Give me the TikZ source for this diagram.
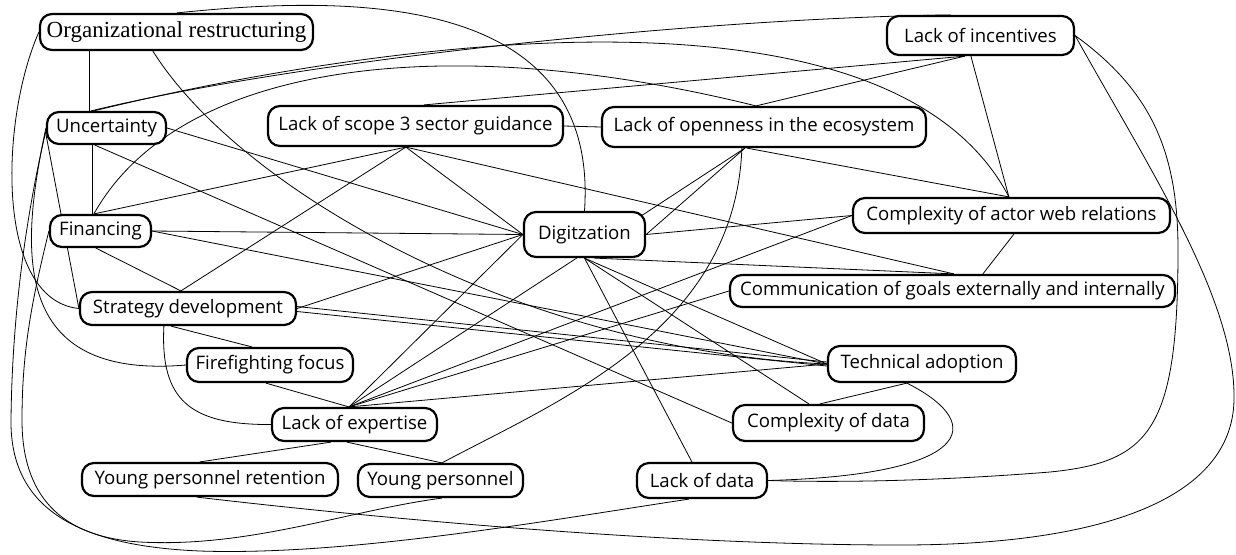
\documentclass[tikz,border=0pt]{standalone}
\usepackage{fontspec}
\setmainfont{Open Sans}
\newfontfamily\serifface{Liberation Serif}
\usetikzlibrary{calc,backgrounds}
\begin{document}
\begin{tikzpicture}[x=0.5pt,y=-0.5pt,
  box/.style={draw=black, line width=1.1pt, rounded corners=6pt, fill=white,
    inner sep=0pt, align=center, font=\fontsize{9.3}{11}\selectfont},
  link/.style={draw=black, line width=0.5pt}]
\useasboundingbox (0,0) rectangle (1236,554);

% factors
\node[box, minimum width=136.5pt, minimum height=18pt, font=\serifface\fontsize{11.5}{13}\selectfont] (OR) at (176.5,32) {Organizational restructuring};
\node[box, minimum width=93.5pt, minimum height=19.5pt] (LI) at (980.5,35.5) {Lack of incentives};
\node[box, minimum width=59.5pt, minimum height=16pt] (UN) at (106.5,128) {Uncertainty};
\node[box, minimum width=147.5pt, minimum height=20pt] (LS3) at (415.5,126) {Lack of scope 3 sector guidance};
\node[box, minimum width=162pt, minimum height=20pt] (LO) at (764,127) {Lack of openness in the ecosystem};
\node[box, minimum width=50.5pt, minimum height=16pt] (FI) at (100.5,231) {Financing};
\node[box, minimum width=60.5pt, minimum height=22.5pt] (DG) at (584.5,234.5) {Digitzation};
\node[box, minimum width=158.5pt, minimum height=17.5pt] (CA) at (1011.5,215.5) {Complexity of actor web relations};
\node[box, minimum width=222.5pt, minimum height=16pt] (CG) at (952.5,291) {Communication of goals externally and internally};
\node[box, minimum width=108pt, minimum height=16.5pt] (SD) at (188,308.5) {Strategy development};
\node[box, minimum width=83pt, minimum height=17pt] (FF) at (270,365) {Firefighting focus};
\node[box, minimum width=94pt, minimum height=18pt] (TA) at (922,364) {Technical adoption};
\node[box, minimum width=82.5pt, minimum height=16.5pt] (LE) at (354.5,424.5) {Lack of expertise};
\node[box, minimum width=95.5pt, minimum height=18pt] (CD) at (828.5,423) {Complexity of data};
\node[box, minimum width=128pt, minimum height=16.5pt] (YPR) at (210,479.5) {Young personnel retention};
\node[box, minimum width=82.5pt, minimum height=16.5pt] (YP) at (440.5,480.5) {Young personnel};
\node[box, minimum width=65pt, minimum height=17.5pt] (LD) at (702,480.5) {Lack of data};

\begin{scope}[on background layer, link]
% straight relations
\draw ($(OR.south west)+(50,0)$) -- ($(UN.north west)+(43,0)$);
\draw ($(UN.south west)+(46,0)$) -- ($(FI.north west)+(43,0)$);
\draw ($(LS3.north west)+(157,0)$) -- ($(LI.south west)+(79,0)$);
\draw ($(LO.north west)+(155,0)$) -- ($(LI.south west)+(79,0)$);
\draw ($(LI.south west)+(85,0)$) -- ($(CA.north west)+(157,0)$);
\draw ($(LO.south west)+(146,0)$) -- ($(CA.north west)+(157,0)$);
\draw ($(LO.south west)+(144,0)$) -- (DG.east);
\draw ($(LO.south west)+(144,0)$) -- ($(LE.north west)+(78,0)$);
\draw (UN.east) -- (DG.west);
\draw ($(UN.south west)+(49,0)$) -- (CD.west);
\draw ($(UN.west)+(0,6)$) -- (SD.west);
\draw (LS3.east) -- (LO.west);
\draw ($(LS3.south west)+(139,0)$) -- ($(SD.north west)+(102,0)$);
\draw ($(LS3.south west)+(139,0)$) -- ($(FI.north west)+(45,0)$);
\draw ($(LS3.south west)+(139,0)$) -- (DG.west);
\draw ($(LS3.south west)+(139,0)$) -- ($(CG.north west)+(225,0)$);
\draw (FI.east) -- (DG.west);
\draw (FI.east) -- (TA.west);
\draw ($(FI.south west)+(47,0)$) -- ($(SD.north west)+(102,0)$);
\draw (DG.east) -- (CA.west);
\draw ($(DG.south)+(10,0)$) -- ($(CG.north west)+(225,0)$);
\draw (DG.south) -- (TA.west);
\draw (DG.south) -- ($(CD.north west)+(77,0)$);
\draw (DG.south) -- ($(LD.north west)+(56,0)$);
\draw (SD.east) -- (DG.west);
\draw ($(LE.north west)+(78,0)$) -- (DG.west);
\draw ($(CA.south west)+(162,0)$) -- ($(CG.north west)+(254,0)$);
\draw (CA.west) -- ($(LE.north west)+(78,0)$);
\draw (CG.west) -- ($(LE.north west)+(78,0)$);
\draw ($(SD.east)+(0,-2)$) -- ($(TA.west)+(0,-2)$);
\draw ($(SD.east)+(0,3)$) -- ($(TA.west)+(0,2)$);
\draw ($(SD.south west)+(92,0)$) -- ($(FF.north west)+(66,0)$);
\draw ($(FF.south west)+(80,0)$) -- ($(LE.north west)+(78,0)$);
\draw ($(LE.north west)+(78,0)$) -- (TA.west);
\draw ($(LE.south west)+(60,0)$) -- ($(YPR.north west)+(119,0)$);
\draw ($(LE.south west)+(76,0)$) -- ($(YP.north west)+(85,0)$);
\draw ($(TA.south west)+(80,0)$) -- ($(CD.north west)+(88,0)$);

% curved relations
\draw ($(OR.north west)+(138,0)$) .. controls (340,-4) and (600,-12) .. (DG.north);
\draw ($(OR.south west)+(114,0)$) .. controls (240,190) and (520,350) .. (TA.west);
\draw (OR.west) .. controls (0,120) and (-5,300) .. (SD.west);
\draw ($(UN.north west)+(45,0)$) .. controls (300,60) and (700,18) .. ($(LI.north west)+(65,0)$);
\draw ($(UN.north west)+(48,0)$) .. controls (300,60) and (880,-50) .. ($(CA.north west)+(157,0)$);
\draw ($(FI.north west)+(45,0)$) .. controls (180,60) and (450,30) .. ($(LO.north west)+(155,0)$);
\draw (UN.west) .. controls (20,250) and (10,380) .. (FF.west);
\draw ($(UN.west)+(0,3)$) .. controls (25,220) and (12,320) .. (11,420)
      .. controls (10,510) and (80,546) .. (200,551)
      .. controls (350,556) and (550,520) .. ($(LD.south west)+(53,0)$);
\draw (FI.west) .. controls (32,300) and (22,350) .. (22,420)
      .. controls (22,495) and (60,537) .. (140,542)
      .. controls (250,548) and (350,510) .. ($(YP.south west)+(85,0)$);
\draw (LI.east) .. controls (1150,90) and (1178,150) .. (1178,250)
      .. controls (1178,430) and (1150,462) .. (1050,472)
      .. controls (950,480) and (850,483) .. (LD.east);
\draw (LI.east) .. controls (1150,170) and (1236,300) .. (1234,400)
      .. controls (1232,500) and (1100,545) .. (900,545)
      .. controls (650,545) and (350,515) .. ($(YPR.south west)+(116,0)$);
\draw ($(SD.south west)+(85,0)$) .. controls (160,400) and (190,425) .. (LE.west);
\draw ($(TA.south west)+(80,0)$) .. controls (990,425) and (970,475) .. (LD.east);
\draw ($(LO.south west)+(141,0)$) .. controls (735,330) and (560,400) .. ($(YP.north west)+(85,0)$);
\end{scope}
\end{tikzpicture}
\end{document}
